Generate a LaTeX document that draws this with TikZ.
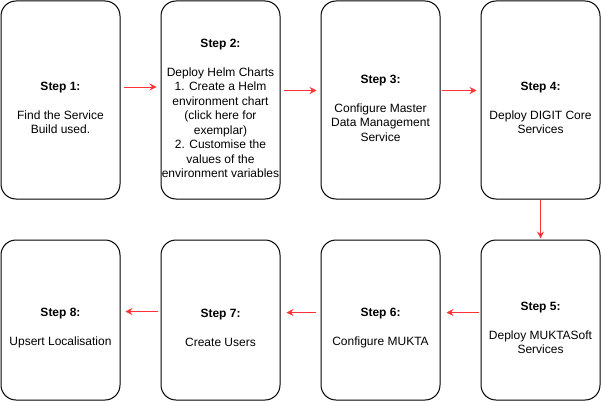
\documentclass[tikz,border=0pt]{standalone}
\usepackage{fontspec}
\setmainfont{Liberation Sans}
\usetikzlibrary{arrows.meta}
\definecolor{flowred}{RGB}{255,51,51}

\begin{document}
\begin{tikzpicture}[x=1pt, y=-1pt,
  tallbox/.style={rectangle, draw=black, line width=1pt, rounded corners=15pt, minimum width=119pt, minimum height=198pt},
  shortbox/.style={rectangle, draw=black, line width=1pt, rounded corners=15pt, minimum width=119pt, minimum height=160pt},
  steptext/.style={align=center, inner sep=0pt, font=\fontsize{12}{14.5}\selectfont},
  flow/.style={draw=flowred, line width=0.8pt, shorten <=3pt, shorten >=4pt, -{Stealth[length=7pt,width=7pt,inset=2.5pt]}},]
\useasboundingbox (0,0) rectangle (601,401);
% boxes
\node[tallbox] (s1) at (60.5, 100) {};
\node[tallbox] (s2) at (220.5, 100) {};
\node[tallbox] (s3) at (380.5, 100) {};
\node[tallbox] (s4) at (540.5, 100) {};
\node[shortbox] (s5) at (540.5, 320) {};
\node[shortbox] (s6) at (380.5, 320) {};
\node[shortbox] (s7) at (220.5, 320) {};
\node[shortbox] (s8) at (60.5, 320) {};
% texts
\node[steptext] (t1) at ([yshift=-8pt]s1.center) {\textbf{Step 1:}\\ \\Find the Service\\Build used.};
\node[steptext] (t2) at ([yshift=-8.5pt]s2.center) {\textbf{Step 2:}\\ \\Deploy Helm Charts\\1. Create a Helm\\environment chart\\(click here for\\exemplar)\\2. Customise the\\values of the\\environment variables};
\node[steptext] (t3) at ([yshift=-8pt]s3.center) {\textbf{Step 3:}\\ \\Configure Master\\Data Management\\Service};
\node[steptext] (t4) at ([yshift=-8pt]s4.center) {\textbf{Step 4:}\\ \\Deploy DIGIT Core\\Services};
\node[steptext] (t5) at ([yshift=-8pt]s5.center) {\textbf{Step 5:}\\ \\Deploy MUKTASoft\\Services};
\node[steptext] (t6) at ([yshift=-8pt]s6.center) {\textbf{Step 6:}\\ \\Configure MUKTA};
\node[steptext] (t7) at ([yshift=-8pt]s7.center) {\textbf{Step 7:}\\ \\Create Users};
\node[steptext] (t8) at ([yshift=-8pt]s8.center) {\textbf{Step 8:}\\ \\Upsert Localisation};
% arrows
\draw[flow] ([yshift=13pt]s1.east) -- ([yshift=13pt]s2.west);
\draw[flow] ([yshift=9.5pt]s2.east) -- ([yshift=9.5pt]s3.west);
\draw[flow, shorten <=1pt] ([yshift=9.5pt]s3.east) -- ([yshift=9.5pt]s4.west);
\draw[flow, shorten <=0pt, shorten >=1pt] (s4.south) -- (s5.north);
\draw[flow, shorten <=2pt, shorten >=6pt] ([yshift=7.5pt]s5.west) -- ([yshift=7.5pt]s6.east);
\draw[flow, shorten <=5pt, shorten >=6pt] ([yshift=7.5pt]s6.west) -- ([yshift=7.5pt]s7.east);
\draw[flow, shorten <=2.5pt, shorten >=5pt] ([yshift=8.5pt]s7.west) -- ([yshift=8.5pt]s8.east);
\end{tikzpicture}
\end{document}
